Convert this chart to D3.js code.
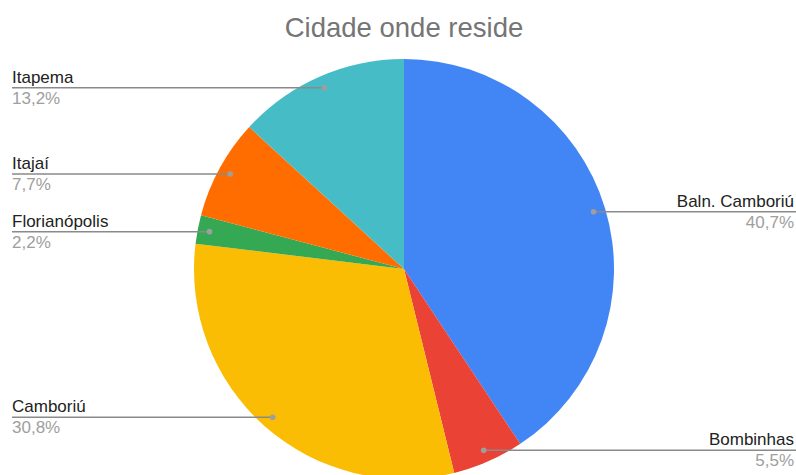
<!DOCTYPE html>
<html><head><meta charset="utf-8">
<script src="https://cdn.jsdelivr.net/npm/d3@7"></script>
<style>html,body{margin:0;padding:0;background:#fff;overflow:hidden}</style>
</head><body>
<svg id="c" width="796" height="475"></svg>
<script>
const categories = ["Baln. Camboriú","Bombinhas","Camboriú","Florianópolis","Itajaí","Itapema"];
const values = [40.7,5.5,30.8,2.2,7.7,13.2];
const pctLabels = ["40,7%","5,5%","30,8%","2,2%","7,7%","13,2%"];
const colors = ["#4285F4","#EA4335","#FBBC04","#34A853","#FF6D01","#46BDC6"];
const title = "Cidade onde reside";

const W=796,H=475,cx=404,cy=269,R=210,rDot=198;
const svg=d3.select("#c");
const font="'Liberation Sans', Arial, sans-serif";
svg.append("text").attr("x",cx).attr("y",37).attr("text-anchor","middle")
  .attr("font-family",font).attr("font-size",27.5).attr("fill","#757575").text(title);

const pie=d3.pie().sort(null).value(d=>d)(values);
const arc=d3.arc().innerRadius(0).outerRadius(R);
const g=svg.append("g").attr("transform",`translate(${cx},${cy})`);
g.selectAll("path").data(pie).join("path").attr("d",arc)
  .attr("fill",(d,i)=>colors[i]);

const dotArc=d3.arc().innerRadius(rDot).outerRadius(rDot);
pie.forEach((d,i)=>{
  const [x,y]=dotArc.centroid(d);
  const px=cx+x, py=cy+y;
  const right=px>cx;
  const lx= right? 796 : 12;
  svg.append("line").attr("x1",px).attr("y1",py).attr("x2",lx).attr("y2",py)
    .attr("stroke","#8a8a8a").attr("stroke-width",1.5);
  svg.append("circle").attr("cx",px).attr("cy",py).attr("r",2.8).attr("fill","#9e9e9e");
  const tx= right? 794 : 12, anchor= right? "end":"start";
  svg.append("text").attr("x",tx).attr("y",py-5).attr("text-anchor",anchor)
    .attr("font-family",font).attr("font-size",17).attr("fill","#222").text(categories[i]);
  svg.append("text").attr("x",tx).attr("y",py+16).attr("text-anchor",anchor)
    .attr("font-family",font).attr("font-size",17).attr("fill","#9e9e9e").text(pctLabels[i]);
});
</script>
</body></html>
